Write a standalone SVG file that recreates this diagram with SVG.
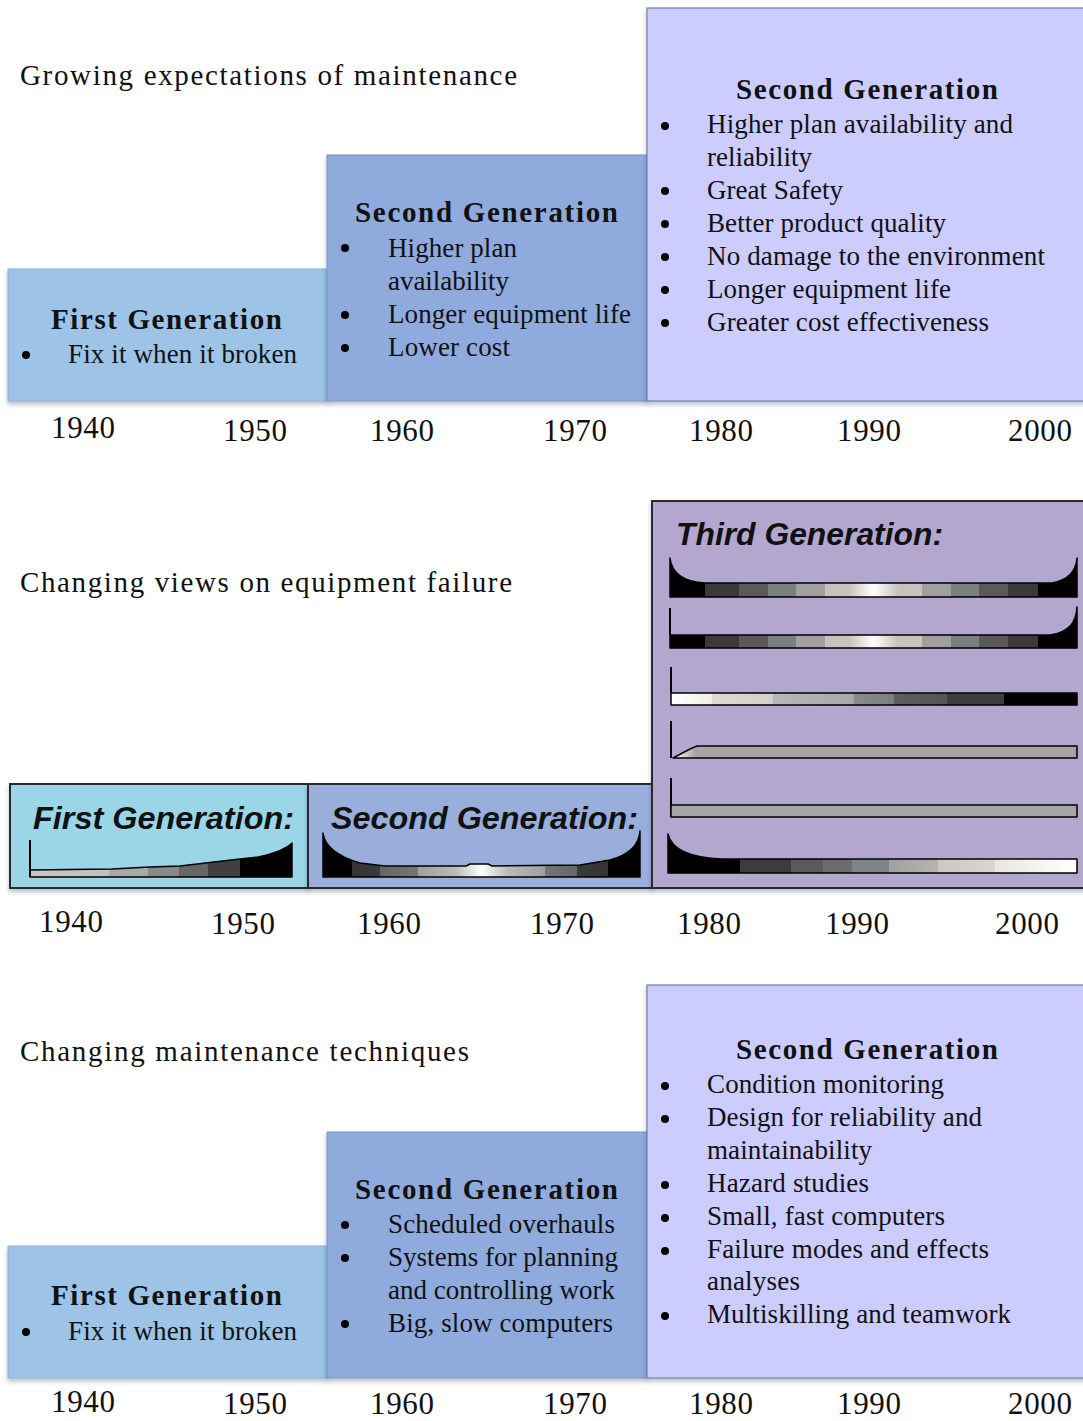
<svg xmlns="http://www.w3.org/2000/svg" width="1083" height="1421" viewBox="0 0 1083 1421">
  <style>
    .title { font-family: "Liberation Serif", "Times New Roman", serif; font-size: 29px; fill: #111; }
    .head { font-family: "Liberation Serif", "Times New Roman", serif; font-size: 29px; font-weight: bold; fill: #111; }
    .item { font-family: "Liberation Serif", "Times New Roman", serif; font-size: 27px; fill: #111; }
    .year { font-family: "Liberation Serif", "Times New Roman", serif; font-size: 31px; fill: #111; }
    .gen { font-family: "Liberation Sans", Arial, sans-serif; font-size: 32px; font-weight: bold; font-style: italic; fill: #111; }
    .dot { fill: #000; }
    .g1 { fill: #9dc3e6; stroke: #8fb0d0; stroke-width: 1; }
    .g2 { fill: #8faadc; stroke: #7c96c4; stroke-width: 1; }
    .g3 { fill: #ccccff; stroke: #6f80a6; stroke-width: 1.2; }
    .panel { stroke: #2a2a2a; stroke-width: 2; }
    .curve { stroke: #000; stroke-width: 1.5; stroke-linejoin: round; }
    .axis { fill: none; stroke: #000; stroke-width: 2; }
  </style>
  <defs>
    <filter id="shadow" x="-5%" y="-5%" width="110%" height="115%">
      <feDropShadow dx="0" dy="3" stdDeviation="2" flood-color="#1a2a4a" flood-opacity="0.3"/>
    </filter>
    <!-- banded grey ramps for the failure-rate bars -->
    <linearGradient id="tub" gradientUnits="userSpaceOnUse" x1="670" y1="0" x2="1077" y2="0">
      <stop offset="0" stop-color="#000"/><stop offset="0.086" stop-color="#000"/>
      <stop offset="0.086" stop-color="#3a3a3a"/><stop offset="0.17" stop-color="#3a3a3a"/>
      <stop offset="0.17" stop-color="#5a5a5a"/><stop offset="0.24" stop-color="#5a5a5a"/>
      <stop offset="0.24" stop-color="#7c7f7f"/><stop offset="0.31" stop-color="#7c7f7f"/>
      <stop offset="0.31" stop-color="#a0a0a0"/><stop offset="0.38" stop-color="#a0a0a0"/>
      <stop offset="0.38" stop-color="#c4c4bc"/><stop offset="0.44" stop-color="#c4c4bc"/>
      <stop offset="0.50" stop-color="#ffffff"/>
      <stop offset="0.56" stop-color="#c4c4bc"/><stop offset="0.62" stop-color="#c4c4bc"/>
      <stop offset="0.62" stop-color="#a0a0a0"/><stop offset="0.69" stop-color="#a0a0a0"/>
      <stop offset="0.69" stop-color="#7c7f7f"/><stop offset="0.76" stop-color="#7c7f7f"/>
      <stop offset="0.76" stop-color="#5a5a5a"/><stop offset="0.83" stop-color="#5a5a5a"/>
      <stop offset="0.83" stop-color="#3a3a3a"/><stop offset="0.905" stop-color="#3a3a3a"/>
      <stop offset="0.905" stop-color="#000"/><stop offset="1" stop-color="#000"/>
    </linearGradient>
    <linearGradient id="wear" gradientUnits="userSpaceOnUse" x1="671" y1="0" x2="1077" y2="0">
      <stop offset="0" stop-color="#ffffff"/><stop offset="0.1" stop-color="#f0f0e8"/>
      <stop offset="0.1" stop-color="#dcdcd4"/><stop offset="0.25" stop-color="#d0d0c8"/>
      <stop offset="0.25" stop-color="#b8b8b8"/><stop offset="0.45" stop-color="#a8a8a8"/>
      <stop offset="0.45" stop-color="#8a8a8a"/><stop offset="0.55" stop-color="#7a8080"/>
      <stop offset="0.55" stop-color="#5e5e5e"/><stop offset="0.68" stop-color="#555"/>
      <stop offset="0.68" stop-color="#3c3c3c"/><stop offset="0.82" stop-color="#3c3c3c"/>
      <stop offset="0.82" stop-color="#000"/><stop offset="1" stop-color="#000"/>
    </linearGradient>
    <linearGradient id="infant" gradientUnits="userSpaceOnUse" x1="668" y1="0" x2="1077" y2="0">
      <stop offset="0" stop-color="#000"/><stop offset="0.175" stop-color="#000"/>
      <stop offset="0.175" stop-color="#3c3c3c"/><stop offset="0.3" stop-color="#3c3c3c"/>
      <stop offset="0.3" stop-color="#5a5a5a"/><stop offset="0.38" stop-color="#5a5a5a"/>
      <stop offset="0.38" stop-color="#6c6c6c"/><stop offset="0.45" stop-color="#6c6c6c"/>
      <stop offset="0.45" stop-color="#7e8484"/><stop offset="0.54" stop-color="#7e8484"/>
      <stop offset="0.54" stop-color="#a0a0a0"/><stop offset="0.66" stop-color="#b4b4b0"/>
      <stop offset="0.66" stop-color="#c8c8c0"/><stop offset="0.8" stop-color="#d8d8d0"/>
      <stop offset="0.8" stop-color="#e8e8e0"/><stop offset="1" stop-color="#ffffff"/>
    </linearGradient>
    <linearGradient id="flatStart" gradientUnits="userSpaceOnUse" x1="673" y1="0" x2="705" y2="0">
      <stop offset="0" stop-color="#ffffff"/><stop offset="0.7" stop-color="#a5a5a5"/><stop offset="1" stop-color="#a5a5a5"/>
    </linearGradient>
    <linearGradient id="rise" gradientUnits="userSpaceOnUse" x1="30" y1="0" x2="292" y2="0">
      <stop offset="0" stop-color="#c8c8c8"/><stop offset="0.3" stop-color="#c0c0c0"/>
      <stop offset="0.3" stop-color="#a8a8a8"/><stop offset="0.45" stop-color="#a8a8a8"/>
      <stop offset="0.45" stop-color="#888"/><stop offset="0.57" stop-color="#888"/>
      <stop offset="0.57" stop-color="#666"/><stop offset="0.68" stop-color="#666"/>
      <stop offset="0.68" stop-color="#404040"/><stop offset="0.8" stop-color="#404040"/>
      <stop offset="0.8" stop-color="#000"/><stop offset="1" stop-color="#000"/>
    </linearGradient>
    <linearGradient id="tub2" gradientUnits="userSpaceOnUse" x1="323" y1="0" x2="640" y2="0">
      <stop offset="0" stop-color="#000"/><stop offset="0.09" stop-color="#000"/>
      <stop offset="0.09" stop-color="#333"/><stop offset="0.18" stop-color="#3a3a3a"/>
      <stop offset="0.18" stop-color="#666"/><stop offset="0.3" stop-color="#777"/>
      <stop offset="0.3" stop-color="#a0a0a0"/><stop offset="0.42" stop-color="#bbb"/>
      <stop offset="0.5" stop-color="#ffffff"/>
      <stop offset="0.58" stop-color="#bbb"/><stop offset="0.7" stop-color="#a0a0a0"/>
      <stop offset="0.7" stop-color="#777"/><stop offset="0.8" stop-color="#666"/>
      <stop offset="0.8" stop-color="#3a3a3a"/><stop offset="0.9" stop-color="#333"/>
      <stop offset="0.9" stop-color="#000"/><stop offset="1" stop-color="#000"/>
    </linearGradient>
  </defs>

  <rect width="1083" height="1421" fill="#ffffff"/>

  <!-- ===== Growing expectations of maintenance ===== -->
  <text class="title" x="20" y="85" textLength="497" lengthAdjust="spacing">Growing expectations of maintenance</text>

  <g id="expect-first">
    <rect class="g1" x="8" y="269" width="319" height="132" filter="url(#shadow)"/>
    <text class="head" x="51" y="329" textLength="231" lengthAdjust="spacing">First Generation</text>
    <circle class="dot" cx="26" cy="355" r="4"/>
    <text class="item" x="68" y="363" textLength="229" lengthAdjust="spacing">Fix it when it broken</text>
  </g>

  <g id="expect-second">
    <rect class="g2" x="327" y="155" width="320" height="246" filter="url(#shadow)"/>
    <text class="head" x="355" y="222" textLength="263" lengthAdjust="spacing">Second Generation</text>
    <circle class="dot" cx="345" cy="248" r="4"/>
    <text class="item" x="388" y="257" textLength="129" lengthAdjust="spacing">Higher plan</text>
    <text class="item" x="388" y="290" textLength="121" lengthAdjust="spacing">availability</text>
    <circle class="dot" cx="345" cy="315" r="4"/>
    <text class="item" x="388" y="323" textLength="243" lengthAdjust="spacing">Longer equipment life</text>
    <circle class="dot" cx="345" cy="348" r="4"/>
    <text class="item" x="388" y="356" textLength="122" lengthAdjust="spacing">Lower cost</text>
  </g>

  <g id="expect-third">
    <rect class="g3" x="647" y="8" width="440" height="393" filter="url(#shadow)"/>
    <text class="head" x="736" y="99" textLength="262" lengthAdjust="spacing">Second Generation</text>
    <circle class="dot" cx="665" cy="126" r="4"/>
    <text class="item" x="707" y="133" textLength="306" lengthAdjust="spacing">Higher plan availability and</text>
    <text class="item" x="707" y="166" textLength="105" lengthAdjust="spacing">reliability</text>
    <circle class="dot" cx="665" cy="191" r="4"/>
    <text class="item" x="707" y="199" textLength="136" lengthAdjust="spacing">Great Safety</text>
    <circle class="dot" cx="665" cy="224" r="4"/>
    <text class="item" x="707" y="232" textLength="239" lengthAdjust="spacing">Better product quality</text>
    <circle class="dot" cx="665" cy="257" r="4"/>
    <text class="item" x="707" y="265" textLength="338" lengthAdjust="spacing">No damage to the environment</text>
    <circle class="dot" cx="665" cy="290" r="4"/>
    <text class="item" x="707" y="298" textLength="244" lengthAdjust="spacing">Longer equipment life</text>
    <circle class="dot" cx="665" cy="323" r="4"/>
    <text class="item" x="707" y="331" textLength="282" lengthAdjust="spacing">Greater cost effectiveness</text>
  </g>

  <g id="expect-years">
    <text class="year" x="51" y="438" textLength="64">1940</text>
    <text class="year" x="223" y="441" textLength="64">1950</text>
    <text class="year" x="370" y="441" textLength="64">1960</text>
    <text class="year" x="543" y="441" textLength="64">1970</text>
    <text class="year" x="689" y="441" textLength="64">1980</text>
    <text class="year" x="837" y="441" textLength="64">1990</text>
    <text class="year" x="1008" y="441" textLength="64">2000</text>
  </g>

  <!-- ===== Changing views on equipment failure ===== -->
  <text class="title" x="20" y="592" textLength="492" lengthAdjust="spacing">Changing views on equipment failure</text>

  <g id="failure-first">
    <rect class="panel" x="10" y="784" width="298" height="104" fill="#9ad6e7" filter="url(#shadow)"/>
    <text class="gen" x="33" y="829" textLength="261" lengthAdjust="spacingAndGlyphs">First Generation:</text>
    <path class="curve" fill="url(#rise)" d="M30,870 L30,877 L292,877 L292,843 C285,850 272,854 258,857 L240,859 L214,862 L180,866 L150,867 L112,869 Z"/>
    <path class="axis" d="M30,840 V877"/>
  </g>

  <g id="failure-second">
    <rect class="panel" x="308" y="784" width="344" height="104" fill="#9aaedb" filter="url(#shadow)"/>
    <text class="gen" x="331" y="829" textLength="307" lengthAdjust="spacingAndGlyphs">Second Generation:</text>
    <path class="curve" fill="url(#tub2)" d="M323,833 L323,877 L640,877 L640,831 C639,846 628,855 610,860 L580,865 L492,866 L488,864 L470,864 L466,866 L385,866 L360,863 C340,857 325,848 323,833 Z"/>
  </g>

  <g id="failure-third">
    <rect class="panel" x="652" y="501" width="436" height="387" fill="#b3a6cf" filter="url(#shadow)"/>
    <text class="gen" x="676" y="545" textLength="267" lengthAdjust="spacingAndGlyphs">Third Generation:</text>
    <!-- bathtub -->
    <path class="curve" fill="url(#tub)" d="M670,558 L670,597 L1077,597 L1077,558 C1076,572 1068,580 1052,583 L705,583 C688,582 672,576 670,558 Z"/>
    <!-- constant then wear-out -->
    <path class="axis" d="M670,608 V636"/>
    <path class="curve" fill="url(#tub)" d="M670,635 L670,648 L1077,648 L1077,607 C1076,622 1070,632 1050,635 Z"/>
    <!-- slowly increasing -->
    <path class="axis" d="M671,667 V693"/>
    <path class="curve" fill="url(#wear)" d="M671,693 L1077,693 L1077,705 L671,705 Z"/>
    <!-- low then constant -->
    <path class="axis" d="M671,721 V758"/>
    <path class="curve" fill="url(#flatStart)" d="M673,758 L690,749 L697,746 L1077,746 L1077,758 Z"/>
    <!-- constant -->
    <path class="axis" d="M671,778 V817"/>
    <path class="curve" fill="#a5a5a5" d="M671,805 L1077,805 L1077,817 L671,817 Z"/>
    <!-- infant mortality then constant -->
    <path class="curve" fill="url(#infant)" d="M668,834 L668,873 L1077,873 L1077,859 L722,859 C695,858 672,852 668,834 Z"/>
  </g>

  <g id="failure-years">
    <text class="year" x="39" y="932" textLength="64">1940</text>
    <text class="year" x="211" y="934" textLength="64">1950</text>
    <text class="year" x="357" y="934" textLength="64">1960</text>
    <text class="year" x="530" y="934" textLength="64">1970</text>
    <text class="year" x="677" y="934" textLength="64">1980</text>
    <text class="year" x="825" y="934" textLength="64">1990</text>
    <text class="year" x="995" y="934" textLength="64">2000</text>
  </g>

  <!-- ===== Changing maintenance techniques ===== -->
  <text class="title" x="20" y="1061" textLength="449" lengthAdjust="spacing">Changing maintenance techniques</text>

  <g id="tech-first">
    <rect class="g1" x="8" y="1246" width="319" height="132" filter="url(#shadow)"/>
    <text class="head" x="51" y="1305" textLength="231" lengthAdjust="spacing">First Generation</text>
    <circle class="dot" cx="26" cy="1332" r="4"/>
    <text class="item" x="68" y="1340" textLength="229" lengthAdjust="spacing">Fix it when it broken</text>
  </g>

  <g id="tech-second">
    <rect class="g2" x="327" y="1132" width="320" height="246" filter="url(#shadow)"/>
    <text class="head" x="355" y="1199" textLength="263" lengthAdjust="spacing">Second Generation</text>
    <circle class="dot" cx="345" cy="1225" r="4"/>
    <text class="item" x="388" y="1233" textLength="227" lengthAdjust="spacing">Scheduled overhauls</text>
    <circle class="dot" cx="345" cy="1258" r="4"/>
    <text class="item" x="388" y="1266" textLength="230" lengthAdjust="spacing">Systems for planning</text>
    <text class="item" x="388" y="1299" textLength="227" lengthAdjust="spacing">and controlling work</text>
    <circle class="dot" cx="345" cy="1324" r="4"/>
    <text class="item" x="388" y="1332" textLength="225" lengthAdjust="spacing">Big, slow computers</text>
  </g>

  <g id="tech-third">
    <rect class="g3" x="647" y="985" width="440" height="393" filter="url(#shadow)"/>
    <text class="head" x="736" y="1059" textLength="262" lengthAdjust="spacing">Second Generation</text>
    <circle class="dot" cx="665" cy="1086" r="4"/>
    <text class="item" x="707" y="1093" textLength="237" lengthAdjust="spacing">Condition monitoring</text>
    <circle class="dot" cx="665" cy="1119" r="4"/>
    <text class="item" x="707" y="1126" textLength="275" lengthAdjust="spacing">Design for reliability and</text>
    <text class="item" x="707" y="1159" textLength="165" lengthAdjust="spacing">maintainability</text>
    <circle class="dot" cx="665" cy="1185" r="4"/>
    <text class="item" x="707" y="1192" textLength="162" lengthAdjust="spacing">Hazard studies</text>
    <circle class="dot" cx="665" cy="1218" r="4"/>
    <text class="item" x="707" y="1225" textLength="238" lengthAdjust="spacing">Small, fast computers</text>
    <circle class="dot" cx="665" cy="1251" r="4"/>
    <text class="item" x="707" y="1258" textLength="282" lengthAdjust="spacing">Failure modes and effects</text>
    <text class="item" x="707" y="1290" textLength="93" lengthAdjust="spacing">analyses</text>
    <circle class="dot" cx="665" cy="1316" r="4"/>
    <text class="item" x="707" y="1323" textLength="304" lengthAdjust="spacing">Multiskilling and teamwork</text>
  </g>

  <g id="tech-years">
    <text class="year" x="51" y="1412" textLength="64">1940</text>
    <text class="year" x="223" y="1414" textLength="64">1950</text>
    <text class="year" x="370" y="1414" textLength="64">1960</text>
    <text class="year" x="543" y="1414" textLength="64">1970</text>
    <text class="year" x="689" y="1414" textLength="64">1980</text>
    <text class="year" x="837" y="1414" textLength="64">1990</text>
    <text class="year" x="1008" y="1414" textLength="64">2000</text>
  </g>

  <!-- no connectors between the timeline blocks -->
  <g id="connectors"/>
</svg>
